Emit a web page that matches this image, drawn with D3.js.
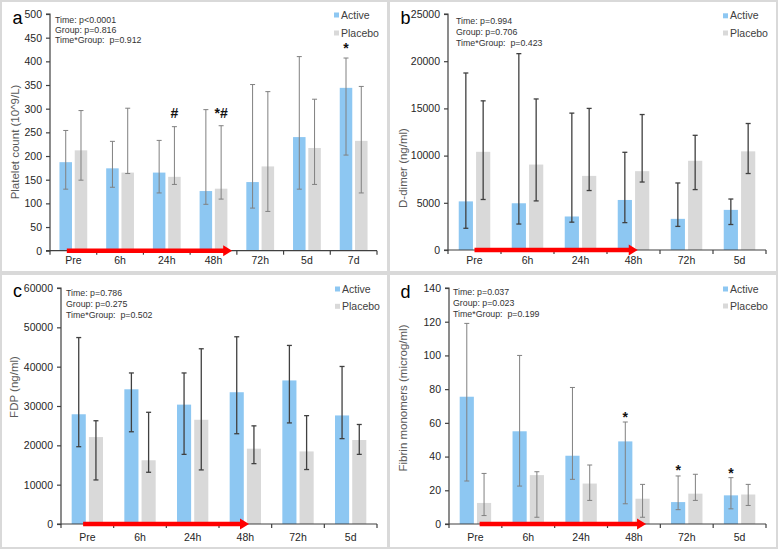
<!DOCTYPE html>
<html><head><meta charset="utf-8">
<script src="https://cdn.jsdelivr.net/npm/d3@7"></script>
<style>
html,body{margin:0;padding:0;background:#d9d9d9;}
svg{display:block;font-family:"Liberation Sans",Arial,sans-serif;}
</style>
</head><body>
<svg id="chart" width="778" height="549"></svg>
<script>
// ---------- DATA ----------
const seriesNames = ["Active", "Placebo"];
const timepointsA = ["Pre", "6h", "24h", "48h", "72h", "5d", "7d"];
const timepoints = ["Pre", "6h", "24h", "48h", "72h", "5d"];

// a: Platelet count (10^9/L)
const plateletActive      = [187, 174, 165, 126, 145, 240, 344];
const plateletActiveLow   = [130, 134, 122,  98,  90, 130, 202];
const plateletActiveHigh  = [254, 231, 233, 298, 351, 410, 407];
const plateletPlacebo     = [212, 165, 156, 131, 178, 217, 232];
const plateletPlaceboLow  = [149, 163, 140, 109,  83, 140, 122];
const plateletPlaceboHigh = [296, 301, 262, 264, 336, 320, 347];
const plateletTicks = [0, 50, 100, 150, 200, 250, 300, 350, 400, 450, 500];
const plateletStats = ["Time: p<0.0001", "Group: p=0.816", "Time*Group:  p=0.912"];
const plateletMarks = [
  {cat: "24h", series: "Placebo", value: 280, text: "#"},
  {cat: "48h", series: "Placebo", value: 280, text: "*#"},
  {cat: "7d",  series: "Active",  value: 417, text: "*"}
];

// b: D-dimer (ng/ml)
const ddimerActive      = [5150, 4950, 3550, 5300, 3300, 4250];
const ddimerActiveLow   = [2300, 2750, 2950, 2900, 2500, 2700];
const ddimerActiveHigh  = [18750, 20800, 14500, 10350, 7100, 5400];
const ddimerPlacebo     = [10400, 9050, 7850, 8350, 9450, 10450];
const ddimerPlaceboLow  = [5350, 5200, 6300, 7200, 6400, 8100];
const ddimerPlaceboHigh = [15800, 16000, 15000, 14350, 12150, 13400];
const ddimerTicks = [0, 5000, 10000, 15000, 20000, 25000];
const ddimerStats = ["Time: p=0.994", "Group: p=0.706", "Time*Group:  p=0.423"];

// c: FDP (ng/ml)
const fdpActive      = [27900, 34250, 30350, 33500, 36500, 27600];
const fdpActiveLow   = [19650, 23450, 17700, 22950, 25700, 21700];
const fdpActiveHigh  = [47400, 38400, 38400, 47600, 45400, 40050];
const fdpPlacebo     = [22100, 16200, 26500, 19150, 18450, 21350];
const fdpPlaceboLow  = [11200, 13150, 13750, 15350, 13850, 17700];
const fdpPlaceboHigh = [26250, 28400, 44550, 24950, 27550, 25300];
const fdpTicks = [0, 10000, 20000, 30000, 40000, 50000, 60000];
const fdpStats = ["Time: p=0.786", "Group: p=0.275", "Time*Group:  p=0.502"];

// d: Fibrin monomers (microg/ml)
const fibrinActive      = [75.5, 55, 40.5, 49, 13, 17];
const fibrinActiveLow   = [25.5, 22.5, 26.5, 12, 8.5, 9];
const fibrinActiveHigh  = [119, 100, 81, 60.5, 28.5, 27.5];
const fibrinPlacebo     = [12.5, 29, 24, 15, 18, 17.5];
const fibrinPlaceboLow  = [5, 4, 14, 4, 14, 11];
const fibrinPlaceboHigh = [30, 31, 35, 23.5, 29.5, 23.5];
const fibrinTicks = [0, 20, 40, 60, 80, 100, 120, 140];
const fibrinStats = ["Time: p=0.037", "Group: p=0.023", "Time*Group:  p=0.199"];
const fibrinMarks = [
  {cat: "48h", series: "Active", value: 60.5, text: "*"},
  {cat: "72h", series: "Active", value: 29, text: "*"},
  {cat: "5d",  series: "Active", value: 27.3, text: "*"}
];

// ---------- PANELS ----------
const panels = [
  {letter: "a", cats: timepointsA, ylabel: "Platelet count (10^9/L)", ticks: plateletTicks, stats: plateletStats, marks: plateletMarks,
   values: {Active: [plateletActive, plateletActiveLow, plateletActiveHigh], Placebo: [plateletPlacebo, plateletPlaceboLow, plateletPlaceboHigh]},
   frame: [2, 2, 385, 269], xRange: [50, 377], yRange: [250.7, 14], letterPos: [12.5, 24], ylabPos: [15, 142],
   statsPos: [55, 22.5, 10.25], legendPos: [334, 15, 33], arrow: ["Pre", 0.36, "48h", 0.9], xPad: 6,
   errColor: "#808080", errWidth: 1},
  {letter: "b", cats: timepoints, ylabel: "D-dimer (ng/ml)", ticks: ddimerTicks, stats: ddimerStats, marks: [],
   values: {Active: [ddimerActive, ddimerActiveLow, ddimerActiveHigh], Placebo: [ddimerPlacebo, ddimerPlaceboLow, ddimerPlaceboHigh]},
   frame: [390, 2, 386, 269], xRange: [448, 766], yRange: [250, 14], letterPos: [400.5, 24], ylabPos: [403, 168],
   statsPos: [456, 24, 11], legendPos: [723, 15.8, 33], arrow: ["Pre", 0.5, "48h", 0.58], xPad: 7,
   errColor: "#404040", errWidth: 1.3},
  {letter: "c", cats: timepoints, ylabel: "FDP (ng/ml)", ticks: fdpTicks, stats: fdpStats, marks: [],
   values: {Active: [fdpActive, fdpActiveLow, fdpActiveHigh], Placebo: [fdpPlacebo, fdpPlaceboLow, fdpPlaceboHigh]},
   frame: [2, 275, 385, 272], xRange: [61, 377], yRange: [524, 288], letterPos: [13, 297], ylabPos: [14, 387],
   statsPos: [66, 295.5, 11.2], legendPos: [335, 289, 306.3], arrow: ["Pre", 0.42, "48h", 0.57], xPad: 10,
   errColor: "#404040", errWidth: 1.3},
  {letter: "d", cats: timepoints, ylabel: "Fibrin monomers (microg/ml)", ticks: fibrinTicks, stats: fibrinStats, marks: fibrinMarks,
   values: {Active: [fibrinActive, fibrinActiveLow, fibrinActiveHigh], Placebo: [fibrinPlacebo, fibrinPlaceboLow, fibrinPlaceboHigh]},
   frame: [390, 275, 386, 272], xRange: [449, 766], yRange: [524, 288], letterPos: [400.5, 298], ylabPos: [403, 398],
   statsPos: [453, 295, 11], legendPos: [723, 289, 306], arrow: ["Pre", 0.58, "48h", 0.73], xPad: 10,
   errColor: "#808080", errWidth: 1}
];

const colors = {Active: "#8DC7F2", Placebo: "#D9D9D9"};
const axisColor = "#404040";
const textColor = "#262626";

const svg = d3.select("#chart");

panels.forEach(p => {
  const g = svg.append("g");
  // panel background
  g.append("rect").attr("x", p.frame[0]).attr("y", p.frame[1]).attr("width", p.frame[2]).attr("height", p.frame[3]).attr("fill", "#fff");

  const x0 = d3.scaleBand().domain(p.cats).range(p.xRange).paddingInner(0).paddingOuter(0);
  const x1 = d3.scaleBand().domain(seriesNames).range([0, x0.bandwidth()]).paddingInner(0.18).paddingOuter(0.62);
  const yMax = p.ticks[p.ticks.length - 1];
  const y = d3.scaleLinear().domain([0, yMax]).range(p.yRange);

  // bars
  const rows = [];
  p.cats.forEach((c, i) => {
    seriesNames.forEach(s => {
      const [v, lo, hi] = p.values[s];
      rows.push({cat: c, series: s, v: v[i], lo: lo[i], hi: hi[i]});
    });
  });
  g.selectAll("rect.bar").data(rows).enter().append("rect")
    .attr("class", "bar")
    .attr("x", d => x0(d.cat) + x1(d.series))
    .attr("width", x1.bandwidth())
    .attr("y", d => y(d.v))
    .attr("height", d => y(0) - y(d.v))
    .attr("fill", d => colors[d.series]);

  // error bars
  const eg = g.append("g").attr("stroke", p.errColor).attr("stroke-width", p.errWidth).attr("fill", "none");
  rows.forEach(d => {
    const cx = x0(d.cat) + x1(d.series) + x1.bandwidth() / 2;
    eg.append("line").attr("x1", cx).attr("x2", cx).attr("y1", y(d.lo)).attr("y2", y(d.hi));
    eg.append("line").attr("x1", cx - 2.5).attr("x2", cx + 2.5).attr("y1", y(d.hi)).attr("y2", y(d.hi));
    eg.append("line").attr("x1", cx - 2.5).attr("x2", cx + 2.5).attr("y1", y(d.lo)).attr("y2", y(d.lo));
  });

  // y axis
  const yAxis = g.append("g").attr("transform", `translate(${p.xRange[0]},0)`)
    .call(d3.axisLeft(y).tickValues(p.ticks).tickFormat(d3.format("d")).tickSize(4).tickPadding(4));
  yAxis.selectAll("path,line").attr("stroke", axisColor).attr("stroke-width", 1.2);
  yAxis.select(".domain").attr("d", `M-4,${y(yMax)}H0V${y(0)}H-4`);
  yAxis.selectAll("text").attr("fill", textColor).style("font-size", "10.5px").style("font-family", "'Liberation Sans',Arial,sans-serif");

  // x axis: line and boundary ticks
  const xg = g.append("g");
  xg.append("line").attr("x1", p.xRange[0]).attr("x2", p.xRange[1]).attr("y1", y(0)).attr("y2", y(0))
    .attr("stroke", axisColor).attr("stroke-width", 1.2);
  const bounds = p.cats.map(c => x0(c)).concat([p.xRange[1]]);
  xg.selectAll("line.bt").data(bounds).enter().append("line").attr("class", "bt")
    .attr("x1", d => d).attr("x2", d => d).attr("y1", y(0)).attr("y2", y(0) + 4)
    .attr("stroke", axisColor).attr("stroke-width", 1.2);
  const xAxis = g.append("g").attr("transform", `translate(0,${y(0)})`)
    .call(d3.axisBottom(x0).tickSize(0).tickPadding(p.xPad));
  xAxis.select(".domain").remove();
  xAxis.selectAll("text").attr("fill", textColor).style("font-size", "10.5px").style("font-family", "'Liberation Sans',Arial,sans-serif");

  // red arrow
  const ax1 = x0(p.arrow[0]) + p.arrow[1] * x0.bandwidth();
  const ax2 = x0(p.arrow[2]) + p.arrow[3] * x0.bandwidth();
  const ay = y(0);
  g.append("line").attr("x1", ax1).attr("x2", ax2 - 8).attr("y1", ay).attr("y2", ay)
    .attr("stroke", "#FF0000").attr("stroke-width", 4.5);
  g.append("path").attr("d", `M${ax2 - 9},${ay - 5.5}L${ax2},${ay}L${ax2 - 9},${ay + 5.5}Z`).attr("fill", "#FF0000");

  // significance marks
  p.marks.forEach(m => {
    g.append("text")
      .attr("x", x0(m.cat) + x1(m.series) + x1.bandwidth() / 2)
      .attr("y", y(m.value))
      .attr("text-anchor", "middle")
      .attr("font-weight", "bold")
      .attr("font-size", 14)
      .attr("fill", "#111")
      .text(m.text);
  });

  // panel letter
  g.append("text").attr("x", p.letterPos[0]).attr("y", p.letterPos[1]).attr("font-size", 18).attr("fill", "#000").text(p.letter);

  // y label
  g.append("text").attr("transform", `translate(${p.ylabPos[0] + 4},${p.ylabPos[1]}) rotate(-90)`)
    .attr("text-anchor", "middle").attr("font-size", 11.5).attr("fill", "#595959").text(p.ylabel);

  // stats
  p.stats.forEach((s, i) => {
    g.append("text").attr("x", p.statsPos[0]).attr("y", p.statsPos[1] + i * p.statsPos[2])
      .attr("font-size", 8.8).attr("fill", "#333").attr("xml:space", "preserve").style("white-space", "pre").text(s);
  });

  // legend
  seriesNames.forEach((s, i) => {
    const ly = p.legendPos[1 + i];
    g.append("rect").attr("x", p.legendPos[0]).attr("y", ly - 2.5).attr("width", 5).attr("height", 5).attr("fill", colors[s]);
    g.append("text").attr("x", p.legendPos[0] + 7).attr("y", ly + 3.6).attr("font-size", 10.5).attr("fill", "#404040").text(s);
  });
});
</script>
</body></html>
